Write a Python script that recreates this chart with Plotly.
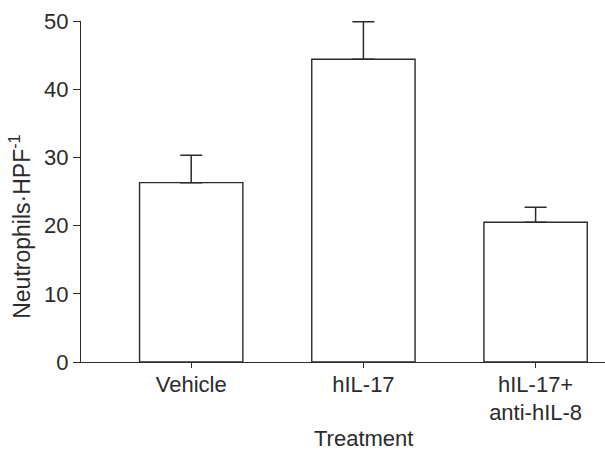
import plotly.graph_objects as go

# Neutrophil counts per high-power field for each treatment group
categories = ["Vehicle", "hIL-17", "hIL-17+<br>anti-hIL-8"]
means = [26.3, 44.4, 20.5]
sem_upper = [4.0, 5.5, 2.2]

FONT = "Liberation Sans Narrow, Arial Narrow, Liberation Sans, Arial, sans-serif"
INK = "#2b2b2b"

fig = go.Figure()
fig.add_trace(go.Bar(
    x=list(range(len(categories))),
    y=means,
    width=0.6,
    marker=dict(color="white", line=dict(color=INK, width=1.4)),
    error_y=dict(type="data", array=sem_upper, arrayminus=[0] * len(means),
                 symmetric=False, color=INK, thickness=1.5, width=11),
    showlegend=False,
))

fig.update_layout(
    width=605, height=453,
    margin=dict(l=81, r=0, t=21, b=91),
    paper_bgcolor="white", plot_bgcolor="white",
    font=dict(family=FONT, size=22, color=INK),
    xaxis=dict(
        range=[-0.64, 2.403],
        tickmode="array", tickvals=list(range(len(categories))), ticktext=categories,
        ticks="outside", ticklen=5, tickwidth=1.2, tickcolor=INK,
        ticklabelstandoff=-3,
        showline=True, linecolor=INK, linewidth=1.2,
        showgrid=False, zeroline=False,
        tickfont=dict(family=FONT, size=22, color=INK),
    ),
    yaxis=dict(
        range=[0, 50], tickvals=[0, 10, 20, 30, 40, 50],
        ticks="outside", ticklen=7, tickwidth=1.2, tickcolor=INK,
        showline=True, linecolor=INK, linewidth=1.2,
        showgrid=False, zeroline=False,
        tickfont=dict(family=FONT, size=22, color=INK),
    ),
    annotations=[
        dict(text="Neutrophils·HPF<sup>-1</sup>", textangle=-90,
             xref="paper", yref="paper", x=-0.1167, y=0.396,
             xanchor="center", yanchor="middle", showarrow=False,
             font=dict(family=FONT, size=23, color=INK)),
        dict(text="Treatment",
             xref="paper", yref="paper", x=0.540, y=-0.224,
             xanchor="center", yanchor="middle", showarrow=False,
             font=dict(family=FONT, size=22, color=INK)),
    ],
)

fig.write_html("out.html")
